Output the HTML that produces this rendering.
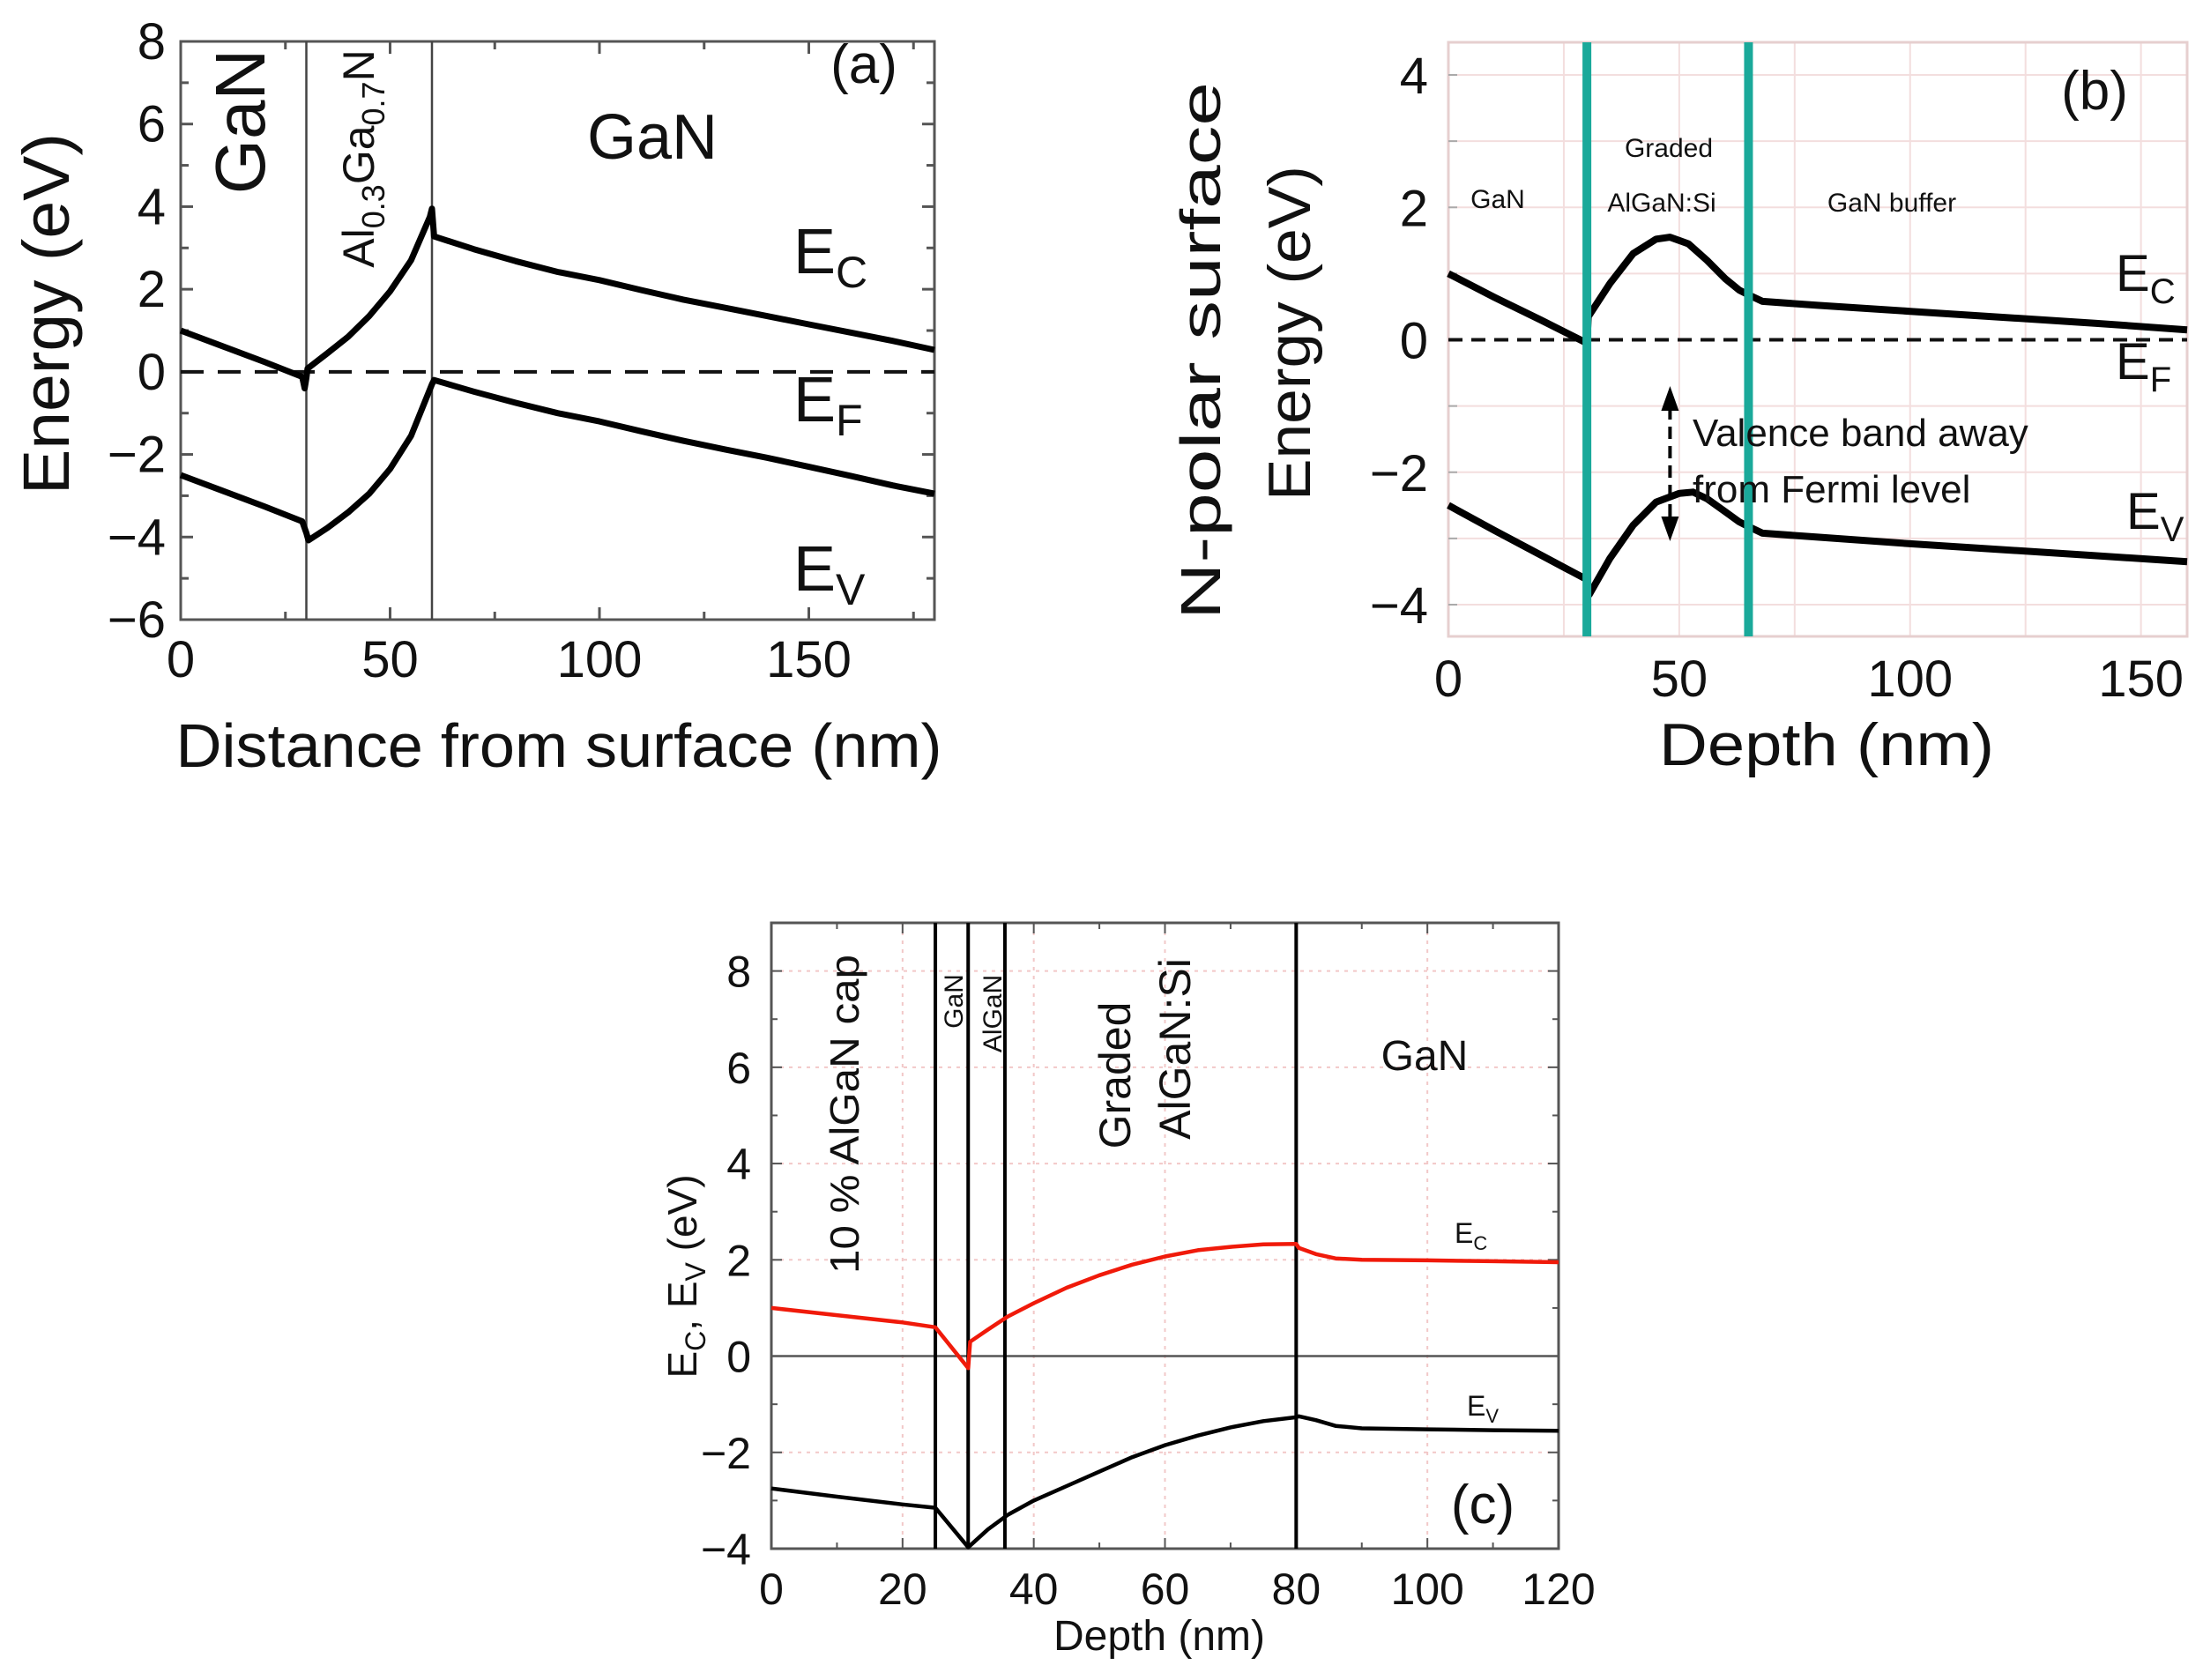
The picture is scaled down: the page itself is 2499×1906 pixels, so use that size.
<!DOCTYPE html>
<html><head><meta charset="utf-8"><style>
html,body{margin:0;padding:0;background:#fff}
svg{display:block}
text{font-family:"Liberation Sans",Arial,sans-serif;fill:#111}
</style></head><body>
<svg id="fig" width="2499" height="1906" viewBox="0 0 2499 1906" xmlns="http://www.w3.org/2000/svg">
<g id="pa"></g>
<g id="pb"></g>
<g id="pc"></g>
</svg>
<script>
// ---- Panel (a) data ----
const aXTicks=[0,50,100,150];
const aYTicks=[-6,-4,-2,0,2,4,6,8];
const aBoundaries=[30,60];
const aEcX=[0,10,20,29,29.6,30,30.3,35,40,45,50,55,59.5,60,60.5,70,80,90,100,110,120,130,140,150,160,170,180];
const aEcY=[1.0,0.62,0.24,-0.12,-0.4,-0.15,0.08,0.45,0.85,1.35,1.95,2.7,3.75,3.95,3.28,2.97,2.68,2.42,2.22,1.98,1.75,1.55,1.35,1.15,0.95,0.75,0.53];
const aEvX=[0,10,20,29,30,30.5,35,40,45,50,55,60,60.5,70,80,90,100,110,120,130,140,150,160,170,180];
const aEvY=[-2.5,-2.88,-3.26,-3.62,-3.9,-4.08,-3.78,-3.4,-2.95,-2.35,-1.55,-0.3,-0.2,-0.48,-0.75,-1.0,-1.2,-1.44,-1.67,-1.88,-2.08,-2.3,-2.52,-2.75,-2.95];

// ---- Panel (b) data ----
const bXTicks=[0,50,100,150];
const bYTicks=[-4,-2,0,2,4];
const bBoundaries=[30,65];
const bEcX=[0,10,20,30,30.3,35,40,45,48,52,56,60,63,65,68,80,100,120,140,160];
const bEcY=[1.0,0.64,0.3,-0.05,0.35,0.85,1.3,1.52,1.55,1.45,1.2,0.92,0.75,0.68,0.58,0.52,0.43,0.34,0.25,0.15];
const bEvX=[0,10,20,30,30.5,35,40,45,50,53,56,60,63,65,68,80,100,120,140,160];
const bEvY=[-2.5,-2.88,-3.25,-3.62,-3.85,-3.3,-2.8,-2.45,-2.32,-2.3,-2.4,-2.6,-2.75,-2.82,-2.92,-2.98,-3.08,-3.17,-3.26,-3.35];

// ---- Panel (c) data ----
const cXTicks=[0,20,40,60,80,100,120];
const cYTicks=[-4,-2,0,2,4,6,8];
const cBoundaries=[25,30,35.6,80];
const cEcX=[0,10,20,25,30,30.3,33,36,40,45,50,55,60,65,70,75,80,80.4,83,86,90,100,110,120];
const cEcY=[1.0,0.85,0.7,0.6,-0.25,0.3,0.55,0.82,1.1,1.42,1.68,1.9,2.07,2.2,2.27,2.32,2.33,2.25,2.12,2.03,2.0,1.99,1.97,1.95];
const cEvX=[0,10,20,25,30,33,36,40,45,50,55,60,65,70,75,80,80.4,83,86,90,100,110,120];
const cEvY=[-2.75,-2.92,-3.08,-3.15,-3.97,-3.6,-3.3,-3.0,-2.7,-2.4,-2.1,-1.85,-1.65,-1.48,-1.35,-1.27,-1.25,-1.33,-1.45,-1.5,-1.52,-1.54,-1.55];

const NS="http://www.w3.org/2000/svg";
function mk(parent,tag,attrs,txt){const e=document.createElementNS(NS,tag);for(const k in attrs)e.setAttribute(k,attrs[k]);if(txt!==undefined)e.textContent=txt;parent.appendChild(e);return e;}
function lin(d0,d1,r0,r1){return v=>r0+(v-d0)*(r1-r0)/(d1-d0);}
function pts(xs,ys,sx,sy){return xs.map((x,i)=>sx(x).toFixed(1)+','+sy(ys[i]).toFixed(1)).join(' ');}

// ===== Panel A =====
(function(){
const g=document.getElementById('pa');
const sx=lin(0,180,205,1060), sy=lin(-6,8,703,47);
let e=mk(g,'rect',{x:205,y:47,width:855,height:656,fill:'none',stroke:'#555','stroke-width':3});

for(let v=-6;v<=8;v+=1){const y=sy(v);const L=(v%2===0)?14:9;
 mk(g,'line',{x1:205,y1:y,x2:205+L,y2:y,stroke:'#555','stroke-width':3});
 mk(g,'line',{x1:1060,y1:y,x2:1060-L,y2:y,stroke:'#555','stroke-width':3});}
for(let v=0;v<=175;v+=25){const x=sx(v);const L=(v%50===0)?14:9;
 mk(g,'line',{x1:x,y1:703,x2:x,y2:703-L,stroke:'#555','stroke-width':3});
 mk(g,'line',{x1:x,y1:47,x2:x,y2:47+L,stroke:'#555','stroke-width':3});}
aYTicks.forEach(v=>{const t=mk(g,'text',{x:188,y:sy(v)+20,'text-anchor':'end','font-size':58},(v<0?'\u2212':'')+Math.abs(v));
 });
aXTicks.forEach(v=>{const t=mk(g,'text',{x:sx(v),y:768,'text-anchor':'middle','font-size':58},String(v));
 });
aBoundaries.forEach(b=>{const l=mk(g,'line',{x1:sx(b),y1:47,x2:sx(b),y2:703,stroke:'#444','stroke-width':2.5});
 });
e=mk(g,'line',{x1:205,y1:sy(0),x2:1060,y2:sy(0),stroke:'#111','stroke-width':4,'stroke-dasharray':'26 16'});

e=mk(g,'polyline',{points:pts(aEcX,aEcY,sx,sy),fill:'none',stroke:'#000','stroke-width':7,'stroke-linejoin':'round'});

e=mk(g,'polyline',{points:pts(aEvX,aEvY,sx,sy),fill:'none',stroke:'#000','stroke-width':7,'stroke-linejoin':'round'});

})();
</script>
<script>
(function(){
const g=document.getElementById('pa');
g.insertAdjacentHTML('beforeend',`
<text transform="translate(78,356) rotate(-90)" text-anchor="middle" font-size="74" textLength="410" lengthAdjust="spacingAndGlyphs">Energy (eV)</text>
<text x="634" y="870" text-anchor="middle" font-size="70" textLength="869" lengthAdjust="spacingAndGlyphs">Distance from surface (nm)</text>
<text transform="translate(300,138) rotate(-90)" text-anchor="middle" font-size="80">GaN</text>
<text transform="translate(424,180) rotate(-90)" text-anchor="middle" font-size="50">Al<tspan font-size="36" dy="12">0.3</tspan><tspan dy="-12">Ga</tspan><tspan font-size="36" dy="12">0.7</tspan><tspan dy="-12">N</tspan></text>
<text x="740" y="180" text-anchor="middle" font-size="72">GaN</text>
<text x="980" y="94" text-anchor="middle" font-size="62">(a)</text>
<text x="900" y="310" font-size="72">E<tspan font-size="50" dy="16">C</tspan></text>
<text x="900" y="478" font-size="72">E<tspan font-size="50" dy="16">F</tspan></text>
<text x="900" y="670" font-size="72">E<tspan font-size="50" dy="16">V</tspan></text>`);
})();

// ===== Panel B =====
(function(){
const g=document.getElementById('pb');
const sx=lin(0,160,1643,2481), sy=lin(-4,4,686,85);
for(let v=-4;v<=4;v+=1){if(v===0)continue;mk(g,'line',{x1:1643,y1:sy(v),x2:2481,y2:sy(v),stroke:'#f3dede','stroke-width':2});}
for(let v=25;v<160;v+=25){mk(g,'line',{x1:sx(v),y1:48,x2:sx(v),y2:722,stroke:'#f3dede','stroke-width':2});}
let e=mk(g,'rect',{x:1643,y:48,width:838,height:674,fill:'none',stroke:'#e6cfcf','stroke-width':3});

for(let v=-4;v<=4;v+=1){mk(g,'line',{x1:1643,y1:sy(v),x2:1653,y2:sy(v),stroke:'#aaa','stroke-width':2});}
bYTicks.forEach(v=>{const t=mk(g,'text',{x:1620,y:sy(v)+21,'text-anchor':'end','font-size':58},(v<0?'\u2212':'')+Math.abs(v));
 });
bXTicks.forEach(v=>{const t=mk(g,'text',{x:sx(v),y:790,'text-anchor':'middle','font-size':58},String(v));
 });
e=mk(g,'line',{x1:1643,y1:sy(0),x2:2481,y2:sy(0),stroke:'#111','stroke-width':4,'stroke-dasharray':'16 10'});

e=mk(g,'polyline',{points:pts(bEcX,bEcY,sx,sy),fill:'none',stroke:'#000','stroke-width':8,'stroke-linejoin':'round'});

e=mk(g,'polyline',{points:pts(bEvX,bEvY,sx,sy),fill:'none',stroke:'#000','stroke-width':8,'stroke-linejoin':'round'});

bBoundaries.forEach(b=>{const l=mk(g,'line',{x1:sx(b),y1:48,x2:sx(b),y2:722,stroke:'#1aa99a','stroke-width':10});
 });
const ax=sx(48);
e=mk(g,'line',{x1:ax,y1:462,x2:ax,y2:590,stroke:'#000','stroke-width':4,'stroke-dasharray':'14 8'});

mk(g,'polygon',{points:`${ax-10},466 ${ax+10},466 ${ax},438`,fill:'#000'});
mk(g,'polygon',{points:`${ax-10},586 ${ax+10},586 ${ax},614`,fill:'#000'});
g.insertAdjacentHTML('beforeend',`
<text transform="translate(1486,378) rotate(-90)" text-anchor="middle" font-size="68" textLength="380" lengthAdjust="spacingAndGlyphs">Energy (eV)</text>
<text transform="translate(1384,398) rotate(-90)" text-anchor="middle" font-size="64" textLength="610" lengthAdjust="spacingAndGlyphs">N-polar surface</text>
<text x="2072" y="868" text-anchor="middle" font-size="68" textLength="380" lengthAdjust="spacingAndGlyphs">Depth (nm)</text>
<text x="1699" y="236" text-anchor="middle" font-size="30">GaN</text>
<text x="1893" y="178" text-anchor="middle" font-size="30">Graded</text>
<text x="1885" y="240" text-anchor="middle" font-size="30">AlGaN:Si</text>
<text x="2146" y="240" text-anchor="middle" font-size="30">GaN buffer</text>
<text x="2376" y="124" text-anchor="middle" font-size="62">(b)</text>
<text x="2400" y="330" font-size="58">E<tspan font-size="40" dy="14">C</tspan></text>
<text x="2400" y="430" font-size="58">E<tspan font-size="40" dy="14">F</tspan></text>
<text x="2412" y="600" font-size="58">E<tspan font-size="40" dy="14">V</tspan></text>
<text x="1920" y="506" font-size="44">Valence band away</text>
<text x="1920" y="570" font-size="44">from Fermi level</text>`);
})();

// ===== Panel C =====
(function(){
const g=document.getElementById('pc');
const sx=lin(0,120,875,1768), sy=lin(-4,9,1757,1047);
for(let v=-4;v<=8;v+=2){if(v===0||v===-4)continue;mk(g,'line',{x1:875,y1:sy(v),x2:1768,y2:sy(v),stroke:'#f2c8c8','stroke-width':2,'stroke-dasharray':'4 6'});}
for(let v=20;v<120;v+=20){mk(g,'line',{x1:sx(v),y1:1047,x2:sx(v),y2:1757,stroke:'#f2c8c8','stroke-width':2,'stroke-dasharray':'4 6'});}
let e=mk(g,'rect',{x:875,y:1047,width:893,height:710,fill:'none',stroke:'#555','stroke-width':3});

for(let v=-4;v<=9;v+=1){const L=(v%2===0)?12:7;mk(g,'line',{x1:875,y1:sy(v),x2:875+L,y2:sy(v),stroke:'#555','stroke-width':2});mk(g,'line',{x1:1768,y1:sy(v),x2:1768-L,y2:sy(v),stroke:'#555','stroke-width':2});}
for(let v=0;v<=120;v+=10){const L=(v%20===0)?12:7;mk(g,'line',{x1:sx(v),y1:1757,x2:sx(v),y2:1757-L,stroke:'#555','stroke-width':2});mk(g,'line',{x1:sx(v),y1:1047,x2:sx(v),y2:1047+L,stroke:'#555','stroke-width':2});}
cYTicks.forEach(v=>{const t=mk(g,'text',{x:852,y:sy(v)+18,'text-anchor':'end','font-size':50},(v<0?'\u2212':'')+Math.abs(v));
 });
cXTicks.forEach(v=>{const t=mk(g,'text',{x:sx(v),y:1820,'text-anchor':'middle','font-size':50},String(v));
 });
e=mk(g,'line',{x1:875,y1:sy(0),x2:1768,y2:sy(0),stroke:'#555','stroke-width':2.5});

cBoundaries.forEach(b=>{const l=mk(g,'line',{x1:sx(b),y1:1047,x2:sx(b),y2:1757,stroke:'#000','stroke-width':4});
 });
e=mk(g,'polyline',{points:pts(cEcX,cEcY,sx,sy),fill:'none',stroke:'#f01a0a','stroke-width':4.5,'stroke-linejoin':'round'});

e=mk(g,'polyline',{points:pts(cEvX,cEvY,sx,sy),fill:'none',stroke:'#000','stroke-width':4.5,'stroke-linejoin':'round'});

g.insertAdjacentHTML('beforeend',`
<text transform="translate(790,1448) rotate(-90)" text-anchor="middle" font-size="46">E<tspan font-size="32" dy="10">C</tspan><tspan dy="-10">, E</tspan><tspan font-size="32" dy="10">V</tspan><tspan dy="-10"> (eV)</tspan></text>
<text x="1315" y="1872" text-anchor="middle" font-size="48">Depth (nm)</text>
<text transform="translate(974,1264) rotate(-90)" text-anchor="middle" font-size="46" textLength="362" lengthAdjust="spacingAndGlyphs">10 % AlGaN cap</text>
<text transform="translate(1092,1136) rotate(-90)" text-anchor="middle" font-size="30">GaN</text>
<text transform="translate(1136,1150) rotate(-90)" text-anchor="middle" font-size="30">AlGaN</text>
<text transform="translate(1282,1220) rotate(-90)" text-anchor="middle" font-size="50">Graded</text>
<text transform="translate(1350,1190) rotate(-90)" text-anchor="middle" font-size="50">AlGaN:Si</text>
<text x="1616" y="1214" text-anchor="middle" font-size="48">GaN</text>
<text x="1650" y="1410" font-size="32">E<tspan font-size="22" dy="8">C</tspan></text>
<text x="1664" y="1606" font-size="32">E<tspan font-size="22" dy="8">V</tspan></text>
<text x="1682" y="1728" text-anchor="middle" font-size="62">(c)</text>`);
})();
</script>
</body></html>
